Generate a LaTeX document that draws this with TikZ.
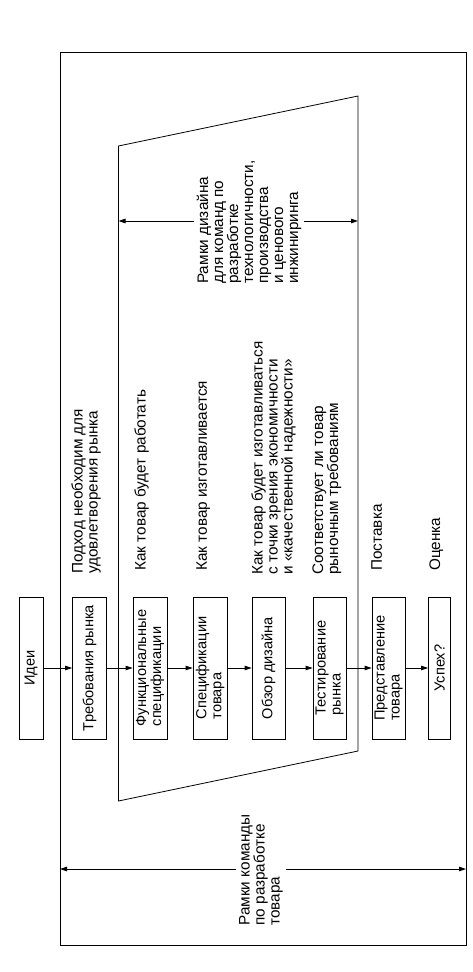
\documentclass[tikz,border=0pt]{standalone}
\usepackage{fontspec}
\setmainfont{Liberation Sans}
\usetikzlibrary{arrows.meta}
\begin{document}
\begin{tikzpicture}[x=1pt,y=1pt,
  line width=0.8pt,
  txt/.style={font=\fontsize{15.3}{15}\selectfont},
  btxt/.style={font=\fontsize{14.6}{15}\selectfont},
  box/.style={btxt, draw, rotate=90, minimum width=142pt, minimum height=34pt, inner sep=1pt, align=left},
  note/.style={txt, rotate=90, anchor=north west, align=left, inner sep=0pt},
  lbl/.style={txt, rotate=90, fill=white, align=left, inner sep=3pt},
  arr/.style={-{Triangle[length=7pt,width=4.5pt]}},
  dimarr/.style={{Triangle[length=7pt,width=4.5pt]}-{Triangle[length=7pt,width=4.5pt]}}
]
\useasboundingbox (0,0) rectangle (473,-972);

% outer frame
\draw (60,-52) rectangle (466,-945);
% trapezoid
\draw (118.5,-146) -- (358,-96) -- (358,-751) -- (118.5,-801) -- cycle;

% boxes
\node[box, minimum height=24pt] (b1) at (31,-668) {Идеи};
\node[box] (b2) at (89.5,-668) {Требования рынка};
\node[box] (b3) at (150,-668) {Функциональные\\спецификации};
\node[box] (b4) at (210,-668) {Спецификации\\товара};
\node[box, minimum height=33pt] (b5) at (268.5,-668) {Обзор дизайна};
\node[box, minimum height=33pt] (b6) at (329.5,-668) {Тестирование\\рынка};
\node[box, minimum height=33pt] (b7) at (388.5,-668) {Представление\\товара};
\node[box, minimum height=22pt] (b8) at (439.5,-668) {Успех?};

\draw[arr] (b1) -- (b2);
\draw[arr] (b2) -- (b3);
\draw[arr] (b3) -- (b4);
\draw[arr] (b4) -- (b5);
\draw[arr] (b5) -- (b6);
\draw[arr] (b6) -- (b7);
\draw[arr] (b7) -- (b8);

% notes
\node[note] (n2) at (71,-574) {Подход необходим для\\удовлетворения рынка};
\node[note] (n3) at (134,-571) {Как товар будет работать};
\node[note] (n4) at (196,-571) {Как товар изготавливается};
\node[note] (n5) at (251,-575) {Как товар будет изготавливаться\\с точки зрения экономичности\\и «качественной надежности»};
\node[note] (n6) at (312,-575) {Соответствует ли товар\\рыночным требованиям};
\node[note] (n7) at (371,-571) {Поставка};
\node[note] (n8) at (429,-571) {Оценка};

% inner dimension arrow
\coordinate (dl) at (118.5,-221);
\coordinate (dr) at (358,-221);
\draw[dimarr] (dl) -- (dr);
\node[lbl] (dt) at (249,-222) {Рамки дизайна\\для команд по\\разработке\\технологичности,\\производства\\и ценового\\инжиниринга};

% outer dimension arrow
\coordinate (ol) at (60,-869);
\coordinate (or) at (466,-869);
\draw[dimarr] (ol) -- (or);
\node[lbl] (ot) at (261,-870) {Рамки команды\\по разработке\\товара};
\end{tikzpicture}
\end{document}
